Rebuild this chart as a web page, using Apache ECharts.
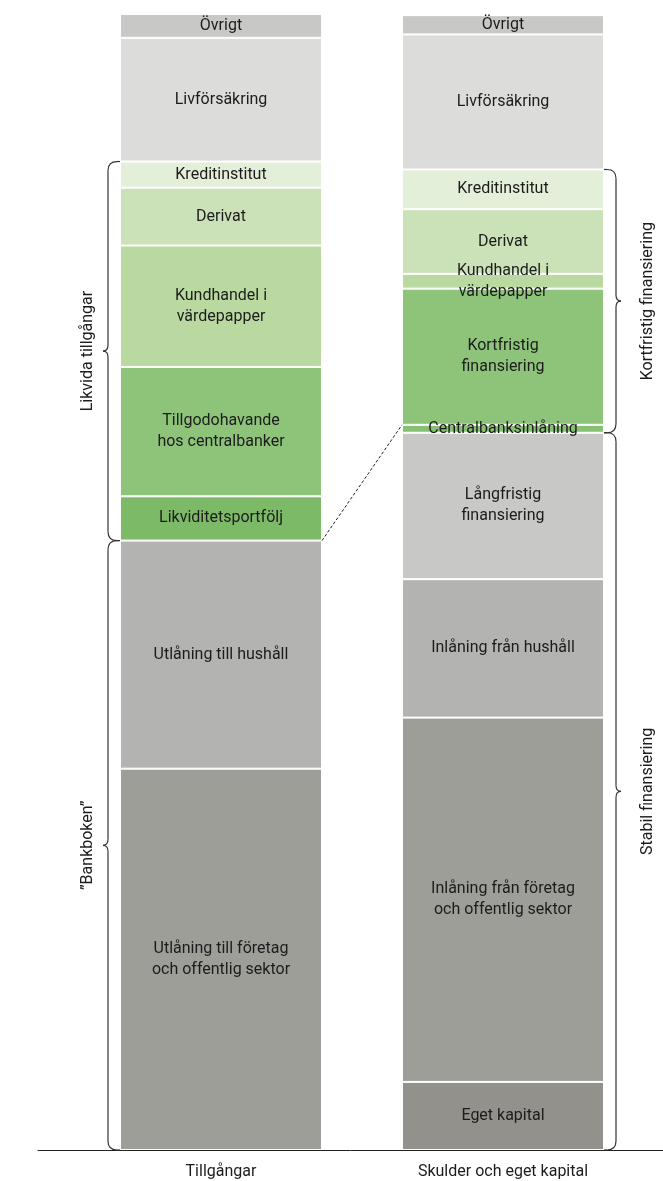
<!DOCTYPE html>
<html><head><meta charset="utf-8">
<script src="https://cdn.jsdelivr.net/npm/echarts@6/dist/echarts.min.js"></script>
<style>html,body{margin:0;padding:0;background:#fff}#c{width:663px;height:1181px}</style>
</head><body><div id="c"></div>
<script>
// ---- data (share of balance sheet, %, bottom-up) ----
const categories = ['Tillgångar', 'Skulder och eget kapital'];
const assetNames = ['Utlåning till företag\noch offentlig sektor', 'Utlåning till hushåll', 'Likviditetsportfölj',
  'Tillgodohavande\nhos centralbanker', 'Kundhandel i\nvärdepapper', 'Derivat', 'Kreditinstitut', 'Livförsäkring', 'Övrigt'];
const assetValues = [33.6, 20.1, 3.9, 11.4, 10.7, 5.1, 2.3, 10.9, 2.1];
const liabNames = ['Eget kapital', 'Inlåning från företag\noch offentlig sektor', 'Inlåning från hushåll',
  'Långfristig\nfinansiering', 'Centralbanksinlåning', 'Kortfristig\nfinansiering', 'Kundhandel i\nvärdepapper',
  'Derivat', 'Kreditinstitut', 'Livförsäkring', 'Övrigt'];
const liabValues = [6.0, 32.1, 12.2, 12.9, 0.7, 12.0, 1.3, 5.7, 3.5, 11.9, 1.7];
const groupLabels = ['Likvida tillgångar', '”Bankboken”', 'Kortfristig finansiering', 'Stabil finansiering'];
// [bar index, first segment, last segment] (bottom-up, inclusive)
const groupRanges = [[0, 2, 6], [0, 0, 1], [1, 4, 8], [1, 0, 3]];

// ---- styles ----
const assetColors = ['#9d9e98', '#b3b3b1', '#7dba68', '#8dc47a', '#b9d9a1', '#cbe2b9', '#e3efd9', '#dcdcdb', '#c8c8c6'];
const liabColors = ['#92918b', '#9d9e98', '#b3b3b1', '#c8c8c6', '#86c072', '#8dc47a', '#b9d9a1', '#cbe2b9', '#e3efd9', '#dcdcdb', '#c8c8c6'];
const FONT = 'Roboto, "Noto Sans", sans-serif';
const TXT = '#1c1c1c';
const BAR_W = 202;

const sum = a => a.reduce((s, v) => s + v, 0);
const total = Math.max(sum(assetValues), sum(liabValues));

function mk(name, data, color) {
  return {
    type: 'bar', name, xAxisIndex: 1, yAxisIndex: 1, stack: 's', barWidth: BAR_W, data,
    itemStyle: { color, borderColor: '#fff', borderWidth: 1 },
    label: { show: true, position: 'inside', formatter: () => name, color: TXT, fontSize: 16, lineHeight: 21, fontFamily: FONT },
    silent: true
  };
}
const series = [];
assetNames.forEach((n, i) => series.push(mk(n, [assetValues[i], '-'], assetColors[i])));
liabNames.forEach((n, i) => series.push(mk(n, ['-', liabValues[i]], liabColors[i])));

const chart = echarts.init(document.getElementById('c'), null, { renderer: 'canvas' });
chart.setOption({
  animation: false,
  grid: [{ left: 38, right: 0, top: 14, bottom: 31 }, { left: 80, right: 19, top: 14, bottom: 31 }],
  xAxis: [
    { gridIndex: 0, type: 'category', data: [''], z: 10, axisLine: { lineStyle: { color: '#222', width: 1 } }, axisTick: { show: false }, axisLabel: { show: false } },
    { gridIndex: 1, type: 'category', data: categories, axisLine: { show: false }, axisTick: { show: false },
      axisLabel: { color: TXT, fontSize: 16, fontFamily: FONT, margin: 14 } }
  ],
  yAxis: [
    { gridIndex: 0, type: 'value', show: false, min: 0, max: total },
    { gridIndex: 1, type: 'value', show: false, min: 0, max: total }
  ],
  series
});

// ---- braces, group labels and connector, positioned from the data ----
const px = (ci, v) => chart.convertToPixel({ xAxisIndex: 1, yAxisIndex: 1 }, [ci, v]);
const cum = (vals, n) => sum(vals.slice(0, n));
const graphic = [];
const LS = { stroke: '#333', lineWidth: 1.2, fill: null };
const seg = (x1, y1, x2, y2) => graphic.push({ type: 'line', z: 20, silent: true, shape: { x1, y1, x2, y2 }, style: LS });
const crv = (x1, y1, cx, cy, x2, y2) => graphic.push({ type: 'bezierCurve', z: 20, silent: true,
  shape: { x1, y1, cpx1: cx, cpy1: cy, x2, y2 }, style: LS });
const r = 9, t = 6;
groupRanges.forEach((g, k) => {
  const vals = g[0] === 0 ? assetValues : liabValues;
  const yBot = px(g[0], cum(vals, g[1]))[1];
  const yTop = px(g[0], cum(vals, g[2] + 1))[1];
  const cx = px(g[0], 0)[0];
  const ym = (yTop + yBot) / 2;
  const s = g[0] === 0 ? -1 : 1;              // side: -1 left of bar, +1 right of bar
  const edge = cx + s * BAR_W / 2, x = edge + s * 12;
  seg(edge, yTop, x - s * r, yTop);
  crv(x - s * r, yTop, x, yTop, x, yTop + r);
  seg(x, yTop + r, x, ym - t);
  crv(x, ym - t, x, ym, x + s * 5, ym);
  crv(x + s * 5, ym, x, ym, x, ym + t);
  seg(x, ym + t, x, yBot - r);
  crv(x, yBot - r, x, yBot, x - s * r, yBot);
  seg(x - s * r, yBot, edge, yBot);
  const lx = g[0] === 0 ? x - 20 : x + 32;
  graphic.push({ type: 'text', x: lx, y: ym, rotation: Math.PI / 2, z: 20, silent: true,
    style: { text: groupLabels[k], fill: TXT, fontSize: 16, fontFamily: FONT, textAlign: 'center', textVerticalAlign: 'middle' } });
});
// dashed connector: top of "Bankboken" to top of stable funding
const p1 = px(0, cum(assetValues, 2));
const p2 = px(1, cum(liabValues, 5));
graphic.push({ type: 'line', z: 20, silent: true,
  shape: { x1: p1[0] + BAR_W / 2, y1: p1[1], x2: p2[0] - BAR_W / 2, y2: p2[1] },
  style: { stroke: '#222', lineWidth: 1, lineDash: [3, 2] } });
chart.setOption({ graphic });
</script></body></html>
